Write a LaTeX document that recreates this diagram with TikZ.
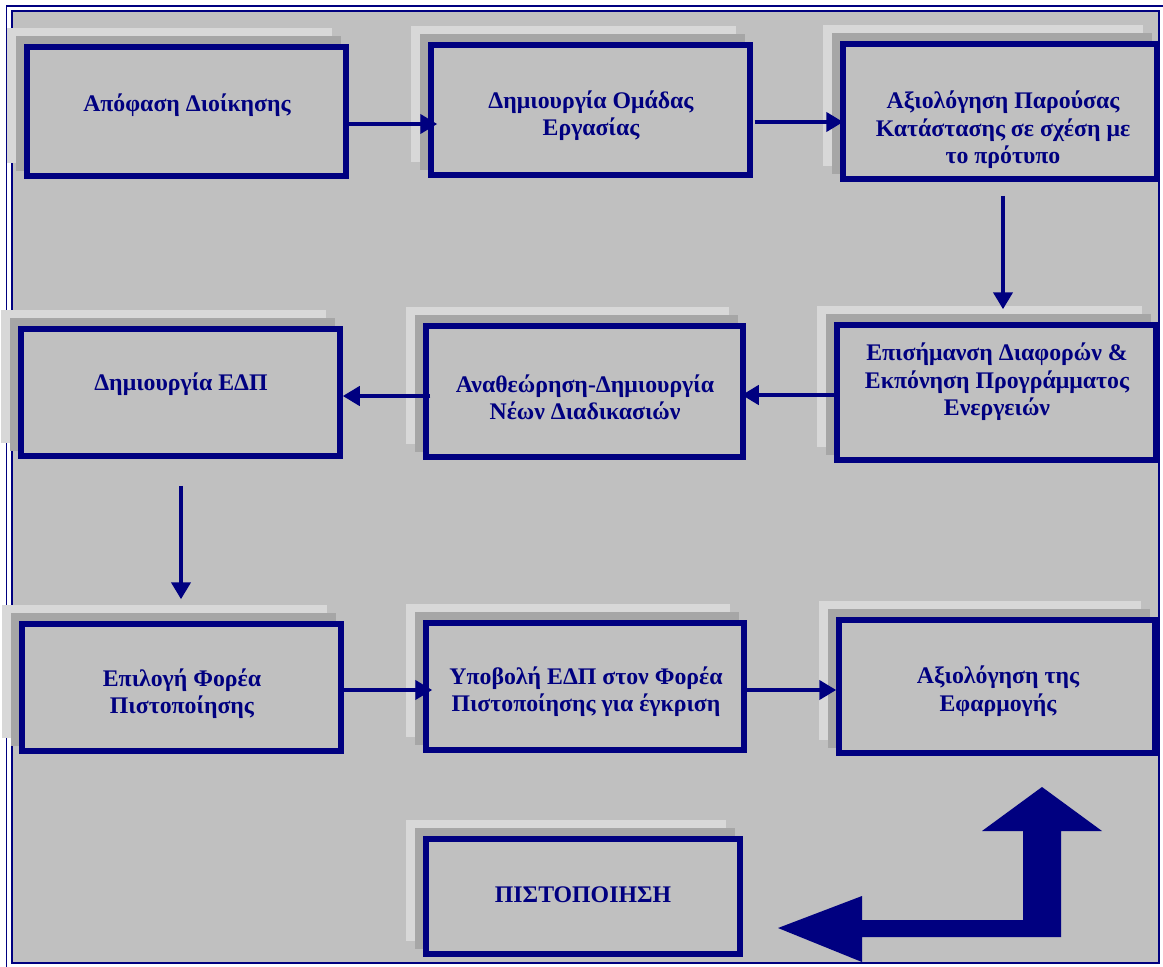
\documentclass[tikz,border=0pt]{standalone}
\usepackage{fontspec}
\setmainfont{Liberation Serif}
\usetikzlibrary{arrows.meta,shadows}
\definecolor{navy}{HTML}{000080}
\definecolor{bg}{HTML}{C0C0C0}
\definecolor{shlight}{HTML}{D8D8D8}
\definecolor{shdark}{HTML}{A6A6A6}
\begin{document}
\begin{tikzpicture}[x=1pt,y=-1pt,
  box/.style={draw=navy, line width=5.5pt, fill=bg, rectangle, inner sep=0pt,
    general shadow={fill=shlight, draw=shlight, line width=5.5pt, shadow xshift=-17pt, shadow yshift=16pt},
    general shadow={fill=shdark, draw=shdark, line width=5.5pt, shadow xshift=-8pt, shadow yshift=8pt}},
  txt/.style={text=navy, font=\bfseries\fontsize{23.8}{27.5}\selectfont, align=center, inner sep=0pt},
  arr/.style={draw=navy, line width=4.2pt, -{Triangle[length=17pt,width=19pt]}},
  frame/.style={draw=navy}]
\useasboundingbox (0,0) rectangle (1163,967);
% background and frame
\fill[white] (0,0) rectangle (1163,967);
\fill[bg] (12,11) rectangle (1159,963);
\draw[frame, line width=1.5pt] (6.5,975) -- (6.5,6) -- (1175,6);
\draw[frame, line width=2.5pt] (12,11) rectangle (1159,963);
% boxes
\node[box, minimum width=319, minimum height=129] (b1) at (186.5,111.5) {};
\node[box, minimum width=319, minimum height=130] (b2) at (590.5,110) {};
\node[box, minimum width=314, minimum height=135] (b3) at (1000,111.5) {};
\node[box, minimum width=319, minimum height=127] (b4) at (180.5,392.5) {};
\node[box, minimum width=317, minimum height=131] (b5) at (584.5,391.5) {};
\node[box, minimum width=319, minimum height=135] (b6) at (996.5,392.5) {};
\node[box, minimum width=319, minimum height=127] (b7) at (181.5,687.5) {};
\node[box, minimum width=318, minimum height=127] (b8) at (585,686.5) {};
\node[box, minimum width=316, minimum height=133] (b9) at (997,686.5) {};
\node[box, minimum width=314, minimum height=115] (b10) at (583,896.5) {};
% texts
\node[txt] (t1) at (187,105) {Απόφαση Διοίκησης};
\node[txt] (t2) at (591,115.5) {Δημιουργία Ομάδας\\Εργασίας};
\node[txt] (t3) at (1003,130) {Αξιολόγηση Παρούσας\\Κατάστασης σε σχέση με\\το πρότυπο};
\node[txt] (t4) at (181,384) {Δημιουργία ΕΔΠ};
\node[txt] (t5) at (585,397.5) {Αναθεώρηση-Δημιουργία\\Νέων Διαδικασιών};
\node[txt] (t6) at (997,382) {Επισήμανση Διαφορών \&\\Εκπόνηση Προγράμματος\\Ενεργειών};
\node[txt] (t7) at (182,693.5) {Επιλογή Φορέα\\Πιστοποίησης};
\node[txt] (t8) at (586,691.5) {Υποβολή ΕΔΠ στον Φορέα\\Πιστοποίησης για έγκριση};
\node[txt] (t9) at (998,691) {Αξιολόγηση της\\Εφαρμογής};
\node[txt] (t10) at (583,895) {ΠΙΣΤΟΠΟΙΗΣΗ};
% connectors
\draw[arr, shorten >=-9pt] (b1.east |- 0,124) -- (b2.west |- 0,124);
\draw[arr, shorten <=2pt, shorten >=-3pt] (b2.east |- 0,122) -- (b3.west |- 0,122);
\draw[arr, shorten <=14pt, shorten >=13pt] (b3.south -| 1003,0) -- (b6.north -| 1003,0);
\draw[arr, shorten >=-4pt] (b6.west |- 0,395) -- (b5.east |- 0,395);
\draw[arr, shorten <=-7pt] (b5.west |- 0,396) -- (b4.east |- 0,396);
\draw[arr, shorten <=27pt, shorten >=22pt] (b4.south -| 181,0) -- (b7.north -| 181,0);
\draw[arr, shorten >=-9pt] (b7.east |- 0,690) -- (b8.west |- 0,690);
\draw[arr, shorten <=-1pt] (b8.east |- 0,690) -- (b9.west |- 0,690);
% big L-shaped block arrow
\fill[navy] (1042,787) -- (1102,831) -- (1061,831) -- (1061,937) -- (862,937)
  -- (862,962) -- (778,928) -- (862,896) -- (862,920) -- (1023,920)
  -- (1023,831) -- (982,831) -- cycle;
\end{tikzpicture}
\end{document}
